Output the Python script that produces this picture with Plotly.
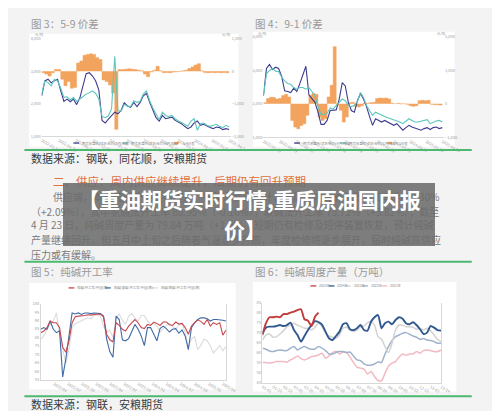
import plotly.graph_objects as go
import pandas as pd

W, H = 500, 411
FONT = "Noto Sans CJK SC"

def fx(x):
    return x / W

def fy(y):
    return 1 - y / H

# ---------------- data ----------------
# Fig 3: 5-9 spread (futures closes, yuan/ton)
C34_START, C34_END = "2022-01-10", "2025-04-24"
C3_MAY = [2242, 2697, 2750, 2640, 2700, 2750, 2390, 2070, 2140, 2060, 2140, 1970, 2170, 2576, 2920,
          2950, 2850, 2697, 2414, 1485, 1404, 1525, 1626, 1737, 1687, 1788, 2030, 1929, 1889, 2040,
          1909, 2040, 2242, 2313, 2040, 1808, 1566, 1465, 1637, 1536, 1566, 1586, 1485, 1435, 1384,
          1303, 1232, 1283, 1404, 1465, 1334, 1364, 1303, 1263, 1232, 1283, 1263, 1202, 1232, 1202]
C3_SEP = [2293, 2697, 2647, 2545, 2748, 2697, 2475, 2192, 2212, 2111, 2192, 2071, 2141, 2232, 2293,
          2333, 2394, 2313, 2141, 1606, 1566, 1626, 1838, 3455, 1788, 1768, 1970, 1929, 1909, 2091,
          2040, 2071, 2293, 2394, 2091, 1869, 1667, 1505, 1737, 1636, 1606, 1636, 1536, 1465, 1424,
          1364, 1303, 1465, 1536, 1182, 1384, 1404, 1334, 1303, 1323, 1364, 1303, 1263, 1334, 1283]
C3_SPREAD = [-50, -90, -150, -50, 50, 50, -250, -450, -320, -525, -500, 250, 310, 485, 515,
             535, 515, 415, 355, -270, -320, -425, -675, -1790, 50, 50, 60, 70, 60, 50,
             30, 10, -90, -170, -30, 30, 150, 10, -50, -40, -50, -30, -20, -10, 10,
             30, 80, 130, 190, 230, 10, -40, -50, -40, -50, -40, -50, -40, -50, -50]

# Fig 4: 9-1 spread
C4_SEP = [2235, 3048, 3166, 3019, 3088, 3048, 2823, 2382, 2362, 2333, 2460, 2362, 2598, 2872, 3117,
          2264, 2137, 2039, 1745, 1382, 1382, 1500, 1794, 1814, 1814, 2137, 2627, 2529, 2039, 1794,
          1745, 2088, 2304, 2137, 1912, 1618, 1353, 1549, 1500, 1451, 1500, 1451, 1402, 1353, 1402,
          1304, 1206, 1284, 1353, 1304, 1265, 1226, 1206, 1255, 1284, 1226, 1284, 1304, 1255, 1284]
C4_JAN = [2235, 2892, 2990, 3048, 2970, 2950, 2794, 2676, 2598, 2578, 2480, 2431, 2480, 2480, 2431,
          2480, 2362, 2235, 1912, 1676, 1676, 1716, 1872, 1843, 1941, 2039, 2137, 2088, 1941, 1912,
          1941, 2068, 2333, 2186, 1941, 1794, 1647, 1745, 1696, 1647, 1618, 1578, 1549, 1520, 1500,
          1451, 1402, 1480, 1549, 1500, 1451, 1451, 1480, 1500, 1520, 1402, 1451, 1480, 1500, 1451]
C4_SPREAD = [30, 150, 190, 180, 140, 160, 240, 280, 200, -500, -700, -750, -650, -600, -350,
             250, 300, 280, -400, -500, -450, 200, 550, 1700, -50, -200, -550, -400, 30, 40,
             -80, -100, -60, 20, 10, 30, 40, 150, 170, 160, 170, 140, 10, 0, 10,
             -10, 0, -20, -60, -80, -60, 90, 100, 90, 100, -20, -30, -30, -40, -30]

C34_TICKS = ["2022-01-10", "2022-04-29", "2022-08-16", "2022-12-03", "2023-03-22", "2023-07-09",
             "2023-10-26", "2024-02-12", "2024-05-31", "2024-09-17", "2025-01-04", "2025-04-24"]

# Fig 5: operating rate (%)
C5_START, C5_END = "2022-01-07", "2025-04-24"
C5_TOTAL = [82.8, 83.8, 85.8, 89.7, 88.7, 88.7, 85.8, 74.1, 71.2, 78.0, 88.7, 92.2, 92.6, 92.6, 93.0,
            93.4, 93.2, 93.6, 93.6, 93.9, 92.2, 81.9, 78.6, 77.4, 88.7, 87.1, 84.8, 83.8, 86.7, 88.7,
            90.6, 88.7, 85.8, 85.2, 87.7, 87.1, 89.1, 88.3, 87.1, 89.1, 89.1, 87.5, 87.1, 89.1, 87.9,
            88.3, 85.8, 81.9, 86.7, 88.7, 90.4, 89.5, 87.7, 90.6, 86.7, 88.7, 87.7, 88.7, 81.3, 84.4]
C5_AMMONIA = [84.8, 85.8, 84.8, 89.7, 84.8, 82.8, 83.8, 56.6, 67.3, 79.9, 94.5, 93.9, 94.5, 93.6, 94.5,
              94.5, 94.1, 94.5, 94.5, 94.1, 92.6, 79.0, 71.6, 68.2, 92.6, 90.6, 78.6, 78.0, 79.3, 83.8,
              87.7, 84.8, 80.9, 75.1, 85.8, 85.8, 81.9, 78.0, 85.2, 86.7, 85.2, 83.2, 84.8, 85.2, 82.5,
              84.4, 80.9, 72.7, 85.8, 88.7, 90.6, 91.6, 91.6, 91.0, 89.7, 90.6, 90.6, 90.6, 90.2, 89.7]
C5_JOINT = [79.0, 80.9, 84.8, 87.7, 89.7, 94.5, 81.9, 74.1, 64.4, 73.1, 85.8, 88.1, 89.1, 90.1, 91.0,
            91.6, 91.0, 93.0, 93.4, 92.6, 86.7, 83.2, 84.4, 79.9, 90.6, 94.1, 90.2, 87.7, 92.6, 94.1,
            91.6, 89.7, 93.0, 93.0, 89.7, 87.7, 88.3, 86.7, 83.2, 85.4, 87.1, 88.3, 86.4, 85.2, 87.1,
            88.3, 82.8, 74.1, 79.0, 80.5, 72.7, 75.4, 79.0, 78.0, 75.1, 70.8, 73.1, 75.1, 72.1, 74.7]

# Fig 6: weekly output (10k tons), seasonal by week of year
WEEKS = list(range(1, 53))
WEEK_TICKS = [1, 4, 7, 10, 13, 16, 19, 22, 25, 28, 31, 34, 37, 40, 43, 46, 49, 52]
WEEK_LABELS = ["01-01", "01-22", "02-12", "03-05", "03-26", "04-16", "05-07", "05-28", "06-18",
               "07-09", "07-30", "08-20", "09-10", "10-01", "10-22", "11-12", "12-03", "12-24"]
Y2025 = [68.8, 74.7, 77.7, 77.7, 78.0, 77.7, 79.3, 79.3, 80.0, 80.5, 81.3, 81.7, 76.7, 76.0, 73.3,
         78.0, 80.0]
Y2024 = [69.7, 72.5, 73.0, 73.0, 73.3, 73.8, 73.3, 73.8, 75.0, 71.3, 68.8, 65.5, 68.3, 71.3, 73.8,
         75.7, 75.3, 74.0, 70.5, 67.2, 66.3, 68.3, 70.5, 74.2, 74.7, 71.7, 71.3, 72.2, 73.8, 71.3,
         71.0, 75.5, 77.7, 78.8, 72.2, 74.7, 75.5, 74.2, 76.3, 77.7, 77.0, 74.7, 74.2, 75.2, 73.8,
         71.7, 69.3, 70.0, 73.3, 72.5, 71.3, 71.0]
Y2023 = [66.3, 68.8, 69.3, 67.7, 68.0, 69.3, 71.0, 73.0, 73.8, 74.7, 73.7, 73.0, 72.2, 72.2, 71.3,
         72.7, 74.7, 73.0, 70.0, 68.3, 67.7, 67.2, 68.8, 72.2, 72.7, 71.3, 70.5, 71.3, 73.0, 73.3,
         75.0, 75.5, 73.8, 68.0, 66.7, 63.0, 60.0, 64.7, 71.3, 73.8, 73.7, 73.0, 73.0, 72.7, 71.7,
         72.2, 71.3, 72.2, 71.0, 68.8, 66.7, 65.5]
Y2022 = [62.2, 61.7, 60.8, 60.5, 61.0, 61.3, 61.0, 61.0, 62.2, 63.0, 61.3, 62.3, 63.0, 62.2, 61.7,
         61.8, 63.0, 62.2, 61.0, 59.3, 59.3, 60.0, 60.5, 60.5, 60.0, 60.3, 58.3, 56.3, 56.0, 54.3,
         53.7, 53.7, 54.3, 55.3, 55.0, 59.3, 63.0, 66.0, 68.0, 68.8, 69.7, 70.0, 69.2, 68.3, 67.7,
         66.7, 67.0, 66.3, 66.0, 65.5, 64.7, 64.7]
Y2021 = [55.0, 55.0, 54.7, 55.0, 55.5, 55.5, 55.5, 55.2, 56.3, 57.2, 58.3, 57.0, 56.3, 57.0, 58.0,
         58.3, 58.8, 59.7, 57.2, 58.3, 60.0, 60.7, 59.3, 60.3, 60.0, 57.7, 55.0, 52.7, 52.2, 51.7,
         49.3, 50.5, 48.0, 46.0, 45.8, 49.7, 53.3, 54.7, 55.5, 57.7, 59.3, 58.7, 59.3, 59.3, 60.5,
         59.7, 61.0, 61.3, 61.0, 60.5, 60.5, 61.3]

# ---------------- styles ----------------
NAVY, TEAL, ORANGE = "#3d3b8e", "#5cc6bd", "#f2a35e"
RED5, BLUE5, GREY5 = "#c8474f", "#3f6aa6", "#dcdcdc"
C6_COLORS = ["#c23b3b", "#32598f", "#d3d3d3", "#9fb2cc", "#f2b9c2"]
C6_NAMES = ["2025年", "2024年", "2023年", "2022年", "2021年"]
TICKF = dict(size=4, color="#a0a0a0", family=FONT)

fig = go.Figure()

d34 = pd.date_range(C34_START, C34_END, periods=len(C3_MAY))
d5 = pd.date_range(C5_START, C5_END, periods=len(C5_TOTAL))

# chart 3
fig.add_trace(go.Scatter(x=d34, y=C3_SPREAD, xaxis="x", yaxis="y", mode="lines", fill="tozeroy",
                         fillcolor=ORANGE, line=dict(color=ORANGE, width=0.5, shape="hv"),
                         name="5-9价差(右轴)"))
fig.add_trace(go.Scatter(x=d34, y=C3_MAY, xaxis="x", yaxis="y2", mode="lines",
                         line=dict(color=NAVY, width=1.1), name="5月合约"))
fig.add_trace(go.Scatter(x=d34, y=C3_SEP, xaxis="x", yaxis="y2", mode="lines",
                         line=dict(color=TEAL, width=1.1), name="9月合约"))
# chart 4
fig.add_trace(go.Scatter(x=d34, y=C4_SPREAD, xaxis="x2", yaxis="y3", mode="lines", fill="tozeroy",
                         fillcolor=ORANGE, line=dict(color=ORANGE, width=0.5, shape="hv"),
                         name="9-1价差(右轴)"))
fig.add_trace(go.Scatter(x=d34, y=C4_SEP, xaxis="x2", yaxis="y4", mode="lines",
                         line=dict(color=NAVY, width=1.1), name="9月合约"))
fig.add_trace(go.Scatter(x=d34, y=C4_JAN, xaxis="x2", yaxis="y4", mode="lines",
                         line=dict(color=TEAL, width=1.1), name="1月合约"))
# chart 5
for ys, c in [(C5_JOINT, GREY5), (C5_AMMONIA, BLUE5), (C5_TOTAL, RED5)]:
    fig.add_trace(go.Scatter(x=d5, y=ys, xaxis="x3", yaxis="y5", mode="lines",
                             line=dict(color=c, width=1.1)))
# chart 6
for ys, c, wdt in [(Y2021, C6_COLORS[4], 1.5), (Y2022, C6_COLORS[3], 1.5), (Y2023, C6_COLORS[2], 1.5),
                   (Y2024, C6_COLORS[1], 1.9), (Y2025, C6_COLORS[0], 1.9)]:
    fig.add_trace(go.Scatter(x=WEEKS[:len(ys)], y=ys, xaxis="x4", yaxis="y6", mode="lines",
                             line=dict(color=c, width=wdt, shape="spline", smoothing=0.6)))

fig.update_traces(showlegend=False, hoverinfo="skip")

def xdom(a, b):
    return [fx(a), fx(b)]

def ydom(top, bottom):
    return [fy(bottom), fy(top)]

common_x = dict(showgrid=False, zeroline=False, tickfont=TICKF, ticks="", showline=True,
                linecolor="#d8d8d8", linewidth=0.6)
common_y = dict(showgrid=False, zeroline=False, tickfont=TICKF, ticks="", tickformat=",")

fig.update_layout(
    width=W, height=H, margin=dict(l=0, r=0, t=0, b=0),
    paper_bgcolor="#f3f3f3", plot_bgcolor="rgba(0,0,0,0)",
    font=dict(family=FONT),
    xaxis=dict(common_x, domain=xdom(33, 230), anchor="y", type="date",
               range=[C34_START, "2025-05-05"], tickvals=C34_TICKS, ticktext=C34_TICKS),
    yaxis=dict(common_y, domain=ydom(27, 126), anchor="x", side="right", range=[-2000, 1000],
               dtick=1000),
    yaxis2=dict(common_y, overlaying="y", anchor="x", side="left", range=[1000, 4000], dtick=1000),
    xaxis2=dict(common_x, domain=xdom(264, 452), anchor="y3", type="date",
                range=[C34_START, "2025-05-05"], tickvals=C34_TICKS, ticktext=C34_TICKS),
    yaxis3=dict(common_y, domain=ydom(25, 127), anchor="x2", side="right", range=[-1000, 2000],
                dtick=1000),
    yaxis4=dict(common_y, overlaying="y3", anchor="x2", side="left", range=[1000, 4000], dtick=1000),
    xaxis3=dict(common_x, domain=xdom(32, 225), anchor="y5", type="date",
                range=[C5_START, C5_END], dtick="M3", tickformat="%Y/%m"),
    yaxis5=dict(common_y, domain=ydom(296, 373), anchor="x3", range=[55, 100], dtick=5,
                showline=True, linecolor="#d8d8d8", linewidth=0.6, mirror=True),
    xaxis4=dict(common_x, domain=xdom(263, 449), anchor="y6", range=[1, 52],
                tickvals=WEEK_TICKS, ticktext=WEEK_LABELS),
    yaxis6=dict(common_y, domain=ydom(295, 376), anchor="x4", range=[45, 85], dtick=5,
                showline=True, linecolor="#d8d8d8", linewidth=0.6, mirror=True),
)

shapes = []
# white chart panels
for (x0, y0, x1, y1) in [(20, 22, 238, 137), (253, 20, 463, 137), (20, 275, 235, 383), (253, 274, 465, 385)]:
    shapes.append(dict(type="rect", xref="paper", yref="paper", x0=fx(x0), x1=fx(x1), y0=fy(y1), y1=fy(y0),
                       fillcolor="white", line=dict(width=0), layer="below"))
# green separator rules
for yy in [140, 253.5, 390]:
    shapes.append(dict(type="line", xref="paper", yref="paper", x0=fx(15), x1=fx(481), y0=fy(yy), y1=fy(yy),
                       line=dict(color="#4cb870", width=2)))

annotations = []

def txt(x, y, s, size, color, anchor="left", bold=False):
    annotations.append(dict(x=fx(x), y=fy(y), xref="paper", yref="paper", text=s, showarrow=False,
                            xanchor=anchor, yanchor="middle",
                            font=dict(size=size, color=color, family=FONT,
                                      weight="bold" if bold else "normal")))

def legend_item(x, y, color, label, kind="line"):
    if kind == "line":
        shapes.append(dict(type="line", xref="paper", yref="paper", x0=fx(x), x1=fx(x + 6),
                           y0=fy(y), y1=fy(y), line=dict(color=color, width=1.3)))
    else:
        shapes.append(dict(type="rect", xref="paper", yref="paper", x0=fx(x), x1=fx(x + 5),
                           y0=fy(y + 1.2), y1=fy(y - 1.2), fillcolor=color, line=dict(width=0)))
    txt(x + 7, y, label, 3.4, "#888")

# captions and sources
txt(20, 12, "图 3：5-9 价差", 10.5, "#9a9a9a")
txt(253, 12, "图 4：9-1 价差", 10.5, "#9a9a9a")
txt(20, 148, "数据来源：钢联，同花顺，安粮期货", 11, "#3a3a3a")
txt(20, 263, "图 5：纯碱开工率", 10.5, "#9a9a9a")
txt(253, 263, "图 6：纯碱周度产量（万吨）", 10.5, "#9a9a9a")
txt(20, 398, "数据来源：钢联，安粮期货", 11, "#3a3a3a")

# units
for (x, y, a) in [(24, 23, "left"), (232, 23, "right"), (256, 22, "left"), (456, 22, "right")]:
    txt(x, y, "元/吨", 3.4, "#a0a0a0", anchor=a)

# legends
legend_item(66, 133, NAVY, "期货收盘价(活跃合约):5月:纯碱")
legend_item(117, 133, TEAL, "期货收盘价(活跃合约):9月:纯碱")
legend_item(171, 133, ORANGE, "5-9价差", kind="rect")
legend_item(296, 133, NAVY, "期货收盘价(活跃合约):9月:纯碱")
legend_item(344, 133, TEAL, "期货收盘价(活跃合约):1月:纯碱")
legend_item(393, 133, ORANGE, "9-1价差", kind="rect")
legend_item(61, 280, RED5, "纯碱:开工率:中国(周)")
legend_item(99, 280, BLUE5, "纯碱:氨碱:开工率:中国(周)")
legend_item(148, 280, GREY5, "纯碱:联碱:开工率:中国(周)")
for i, (xx, nm) in enumerate(zip([313, 332, 349, 367, 387], C6_NAMES)):
    legend_item(xx, 278, C6_COLORS[i], nm)

# section heading and body
txt(43, 171, "二、供应：周内供应继续提升，后期仍有回升预期", 11.5, "#e0703c")
BODY = [
    (43, 187, "供应端，本周纯碱产量继续提升，据隆众资讯统计，本周国内纯碱装置开工率为 84.30%"),
    (20, 202, "（+2.09%），其中氨碱法开工率 88.95%（-0.16%），联碱法开工率 75.72%（+3.82%）；截至"),
    (20, 216, "4 月 23 日，纯碱周度产量为 79.84 万吨（+1.98）。短期仍有检修及短停装置恢复，预计纯碱"),
    (20, 231, "产量继续回升。但五月中上旬之后随着气温逐步升高，年度检修将逐步展开，届时纯碱高供应"),
    (20, 246, "压力或有缓解。"),
]
for x, y, s in BODY:
    txt(x, y, s, 10.0, "#7a7a7a")

# dark overlay title box
annotations.append(dict(x=fx(249), y=fy(205.5), xref="paper", yref="paper", text=" ", showarrow=False,
                        xanchor="center", yanchor="middle", width=372, height=63,
                        bgcolor="rgba(108,108,108,0.88)", borderpad=0, borderwidth=0))
txt(249, 190, "【重油期货实时行情,重质原油国内报", 21, "white", anchor="center", bold=True)
txt(245, 220, "价】", 21, "white", anchor="center", bold=True)

fig.update_layout(shapes=shapes, annotations=annotations)
fig.write_html("out.html")
